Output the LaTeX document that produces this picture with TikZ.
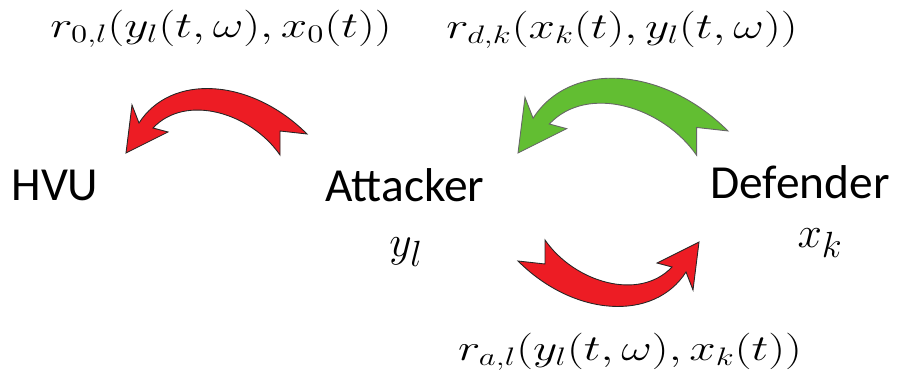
\documentclass[tikz,border=0pt]{standalone}
\usepackage{fontspec}
\usepackage{graphicx}
\newfontfamily\actorfont{Carlito}
\definecolor{arrowred}{RGB}{237,28,36}
\definecolor{arrowgreen}{RGB}{98,190,50}
\newcommand{\widemath}[1]{\scalebox{1.3}[1]{$#1$}}
\tikzset{
  actor/.style = {inner sep=0pt, font=\actorfont\fontsize{27}{32}\selectfont},% players
  state/.style = {inner sep=0pt, font=\Huge},% positions
  payoff/.style = {inner sep=0pt, font=\huge},% rewards
  redarrow/.style = {fill=arrowred, draw=black!85, line width=0.5pt},
  greenarrow/.style = {fill=arrowgreen, draw=black!60, line width=0.5pt},
  fatarrow/.pic = {
    \filldraw (0,0) -- (6,-48) -- (13,-30) .. controls (45,-80) and (125,-75) .. (181,-19)
      -- (154,-22) -- (154,2) .. controls (125,-40) and (60,-60) .. (27,-25) -- (42,-21) -- cycle;
  }
}

\begin{document}
\begin{tikzpicture}[x=0.02cm,y=-0.02cm]
  \useasboundingbox (0,0) rectangle (898,385);

  \node [actor] (hvu) at (55,185) {HVU};
  \node [actor] (atk) at (405,185) {Attacker};
  \node [actor] (def) at (800,182) {Defender};
  \node [state] (yl) at (406,252) {$y_l$};
  \node [state] (xk) at (820,243) {$x_k$};

  \node [payoff] (r0) at (221,29) {\widemath{r_{0,l}(y_l(t,\omega), x_0(t))}};
  \node [payoff] (rd) at (622,30) {\widemath{r_{d,k}(x_k(t), y_l(t,\omega))}};
  \node [payoff] (ra) at (630,352) {\widemath{r_{a,l}(y_l(t,\omega), x_k(t))}};

  \coordinate (hvu-in) at (126,153);
  \coordinate (atk-in) at (518,153);
  \coordinate (def-in) at (699,242);

  \pic [redarrow] at (hvu-in) {fatarrow};
  \pic [greenarrow, scale=1.16] at (atk-in) {fatarrow};
  \pic [redarrow, rotate=180] at (def-in) {fatarrow};
\end{tikzpicture}
\end{document}
